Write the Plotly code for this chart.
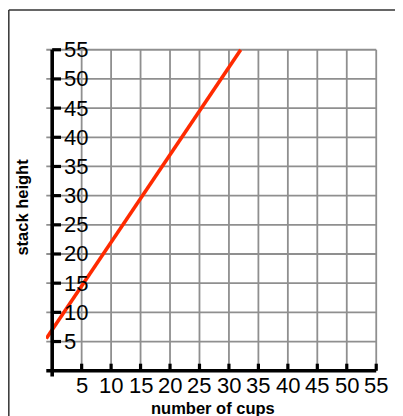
import plotly.graph_objects as go

# data
cups = [-1, 32]
height = [5.5, 55]
x_ticks = [5, 10, 15, 20, 25, 30, 35, 40, 45, 50, 55]
y_ticks = [5, 10, 15, 20, 25, 30, 35, 40, 45, 50, 55]
x_labels = [str(v) for v in x_ticks]
y_labels = [str(v) for v in y_ticks]
x_title = "number of cups"
y_title = "stack height"

X_MIN, X_MAX = -1, 55
Y_MIN, Y_MAX = -1, 55
GRID = "#8f8f8f"
NUM_FONT = dict(family="Liberation Sans, Arial", size=22, color="black")
TITLE_FONT = dict(family="Liberation Sans, Arial", size=16.5, color="black")

fig = go.Figure()
fig.add_trace(go.Scatter(x=cups, y=height, mode="lines",
                         line=dict(color="#ff2a00", width=3.6), showlegend=False,
                         hoverinfo="skip"))

shapes = []
# grid
for v in y_ticks:
    shapes.append(dict(type="line", xref="x", yref="y", x0=X_MIN, x1=X_MAX, y0=v, y1=v,
                       line=dict(color=GRID, width=1.8), layer="below"))
for v in x_ticks:
    shapes.append(dict(type="line", xref="x", yref="y", x0=v, x1=v, y0=0, y1=Y_MAX,
                       line=dict(color=GRID, width=1.8), layer="below"))
# axes
shapes.append(dict(type="line", xref="x", yref="y", x0=X_MIN, x1=X_MAX, y0=0, y1=0,
                   line=dict(color="black", width=3.6)))
shapes.append(dict(type="line", xref="x", yref="y", x0=0, x1=0, y0=Y_MIN, y1=Y_MAX,
                   line=dict(color="black", width=3.6)))
# tick marks
for v in y_ticks:
    shapes.append(dict(type="line", xref="x", yref="y", x0=0, x1=1.5, y0=v, y1=v,
                       line=dict(color="black", width=3.2)))
for v in x_ticks:
    shapes.append(dict(type="line", xref="x", yref="y", x0=v, x1=v, y0=0, y1=1.2,
                       line=dict(color="black", width=3.2)))
# frame (cropped box)
shapes.append(dict(type="line", xref="paper", yref="paper", x0=-0.112, x1=-0.112,
                   y0=-0.2, y1=1.1152, line=dict(color="#333333", width=1.5)))
shapes.append(dict(type="line", xref="paper", yref="paper", x0=-0.112, x1=1.2,
                   y0=1.1152, y1=1.1152, line=dict(color="#333333", width=1.5)))

annotations = []
for v, t in zip(y_ticks, y_labels):
    annotations.append(dict(x=0, y=v, xref="x", yref="y", text=t, showarrow=False,
                            xanchor="left", yanchor="middle", xshift=10, font=NUM_FONT))
for v, t in zip(x_ticks, x_labels):
    annotations.append(dict(x=v, y=0, xref="x", yref="y", text=t, showarrow=False,
                            xanchor="center", yanchor="top", yshift=0, font=NUM_FONT))
annotations.append(dict(x=0.502, y=-0.09, xref="paper", yref="paper", text="<b>%s</b>" % x_title,
                        showarrow=False, xanchor="center", yanchor="middle", font=TITLE_FONT))
annotations.append(dict(x=-0.072, y=0.5167, xref="paper", yref="paper", text="<b>%s</b>" % y_title,
                        showarrow=False, textangle=-90, xanchor="center", yanchor="middle",
                        font=TITLE_FONT))

fig.update_layout(
    width=395, height=408,
    margin=dict(l=38, r=25, t=40, b=38, autoexpand=False),
    paper_bgcolor="white", plot_bgcolor="white",
    xaxis=dict(range=[-1.05, 55.3], showgrid=False, zeroline=False, showticklabels=False,
               showline=False, ticks="", fixedrange=True),
    yaxis=dict(range=[-1.25, 55.3], showgrid=False, zeroline=False, showticklabels=False,
               showline=False, ticks="", fixedrange=True),
    shapes=shapes, annotations=annotations,
)

fig.write_html("out.html", config={"displayModeBar": False})
